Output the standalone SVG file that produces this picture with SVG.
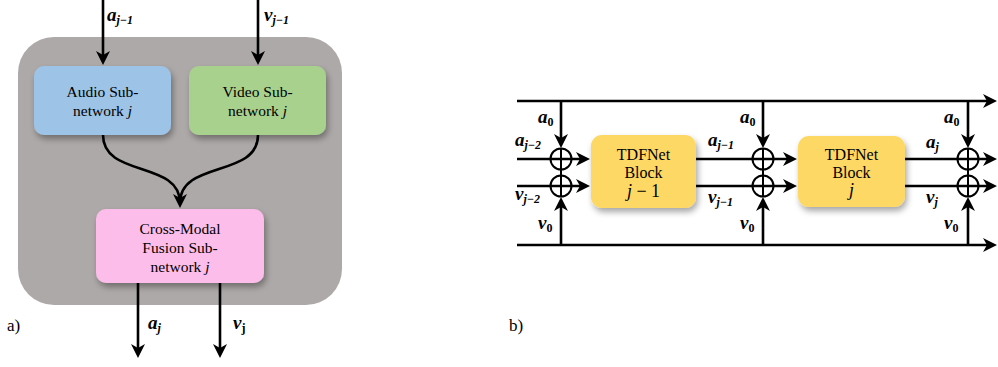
<svg xmlns="http://www.w3.org/2000/svg" width="998" height="367" viewBox="0 0 998 367">
<defs>
<marker id="arr" viewBox="0 0 14 14" refX="9" refY="7" markerWidth="14" markerHeight="14" orient="auto" markerUnits="userSpaceOnUse">
<path d="M0,0 L14,7 L0,14 L4,7 z" fill="#000"/>
</marker>
<filter id="sh" x="-20%" y="-20%" width="150%" height="160%">
<feDropShadow dx="2" dy="4" stdDeviation="3" flood-color="#000" flood-opacity="0.35"/>
</filter>
<style>
.ln{stroke:#000;stroke-width:2.6;fill:none}
.lb{font-family:"Liberation Serif",serif;font-size:15.5px;fill:#000}
.m{font-family:"Liberation Serif",serif;font-style:italic;font-weight:bold;font-size:19px;fill:#000}
.s{font-size:12px}
.pl{font-family:"Liberation Serif",serif;font-size:17px;fill:#000}
.ci{stroke:#000;stroke-width:2;fill:none}
</style>
</defs>

<g id="panel-a">
<rect x="18" y="37" width="324" height="268" rx="36" fill="#ADA9A8"/>
</g>

<g id="audio">
<rect x="34" y="66" width="137" height="69" rx="10" fill="#9DC3E6" filter="url(#sh)"/>
<text class="lb" text-anchor="middle"><tspan x="102.5" y="97">Audio Sub-</tspan><tspan x="102.5" y="116">network <tspan font-style="italic">j</tspan></tspan></text>
</g>
<g id="video">
<rect x="189" y="66" width="137" height="69" rx="10" fill="#A9D18E" filter="url(#sh)"/>
<text class="lb" text-anchor="middle"><tspan x="257.5" y="97">Video Sub-</tspan><tspan x="257.5" y="116">network <tspan font-style="italic">j</tspan></tspan></text>
</g>
<g id="fusion">
<rect x="96" y="209" width="168" height="74" rx="10" fill="#FDBDEA" filter="url(#sh)"/>
<text class="lb" text-anchor="middle"><tspan x="180" y="234">Cross-Modal</tspan><tspan x="180" y="253">Fusion Sub-</tspan><tspan x="180" y="272">network <tspan font-style="italic">j</tspan></tspan></text>
</g>

<g id="block1">
<rect x="591" y="135" width="105" height="73" rx="11" fill="#FDD865" filter="url(#sh)"/>
<text class="lb" text-anchor="middle" style="font-size:16px"><tspan x="643.5" y="160">TDFNet</tspan><tspan x="643.5" y="178">Block</tspan><tspan x="643.5" y="197" style="font-size:18px"><tspan font-style="italic">j</tspan> − 1</tspan></text>
</g>
<g id="block2">
<rect x="798" y="136" width="107" height="71" rx="11" fill="#FDD865" filter="url(#sh)"/>
<text class="lb" text-anchor="middle" style="font-size:16px"><tspan x="851.5" y="160">TDFNet</tspan><tspan x="851.5" y="178">Block</tspan><tspan x="851.5" y="196" font-style="italic" style="font-size:18px">j</tspan></text>
</g>

<g id="connectors">
<line class="ln" x1="103" y1="0" x2="103" y2="60" marker-end="url(#arr)"/>
<line class="ln" x1="258" y1="0" x2="258" y2="60" marker-end="url(#arr)"/>
<path class="ln" d="M103,135 C103,178 180,160 180,203" marker-end="url(#arr)"/>
<path class="ln" d="M258,135 C258,178 180,160 180,203"/>
<line class="ln" x1="138" y1="283" x2="138" y2="353" marker-end="url(#arr)"/>
<line class="ln" x1="220" y1="283" x2="220" y2="353" marker-end="url(#arr)"/>

<line class="ln" x1="517" y1="101" x2="992" y2="101" marker-end="url(#arr)"/>
<line class="ln" x1="517" y1="245" x2="992" y2="245" marker-end="url(#arr)"/>
<line class="ln" x1="517" y1="159" x2="585" y2="159" marker-end="url(#arr)"/>
<line class="ln" x1="517" y1="186" x2="585" y2="186" marker-end="url(#arr)"/>
<line class="ln" x1="696" y1="159" x2="792" y2="159" marker-end="url(#arr)"/>
<line class="ln" x1="696" y1="186" x2="792" y2="186" marker-end="url(#arr)"/>
<line class="ln" x1="905" y1="159" x2="992" y2="159" marker-end="url(#arr)"/>
<line class="ln" x1="905" y1="186" x2="992" y2="186" marker-end="url(#arr)"/>

<line class="ln" x1="561" y1="101" x2="561" y2="143" marker-end="url(#arr)"/>
<line class="ln" x1="561" y1="245" x2="561" y2="202" marker-end="url(#arr)"/>
<line class="ln" x1="763" y1="101" x2="763" y2="143" marker-end="url(#arr)"/>
<line class="ln" x1="763" y1="245" x2="763" y2="202" marker-end="url(#arr)"/>
<line class="ln" x1="968" y1="101" x2="968" y2="143" marker-end="url(#arr)"/>
<line class="ln" x1="968" y1="245" x2="968" y2="202" marker-end="url(#arr)"/>

<circle class="ci" cx="561" cy="159" r="10.5"/>
<circle class="ci" cx="561" cy="186" r="10.5"/>
<circle class="ci" cx="763" cy="159" r="10.5"/>
<circle class="ci" cx="763" cy="186" r="10.5"/>
<circle class="ci" cx="968" cy="159" r="10.5"/>
<circle class="ci" cx="968" cy="186" r="10.5"/>
<line class="ci" x1="561" y1="148.5" x2="561" y2="196.5"/>
<line class="ci" x1="763" y1="148.5" x2="763" y2="196.5"/>
<line class="ci" x1="968" y1="148.5" x2="968" y2="196.5"/>
</g>

<g id="labels">
<text class="m" x="107" y="21">a<tspan class="s" dy="3">j−1</tspan></text>
<text class="m" x="264" y="21">v<tspan class="s" dy="3">j−1</tspan></text>
<text class="m" x="148" y="329">a<tspan class="s" dy="3">j</tspan></text>
<text class="m" x="233" y="329">v<tspan class="s" dy="3" font-style="normal">j</tspan></text>
<text class="pl" x="7" y="331">a)</text>
<text class="pl" x="509" y="331">b)</text>

<text class="m" x="538" y="123">a<tspan class="s" dy="3" font-style="normal">0</tspan></text>
<text class="m" x="515" y="146">a<tspan class="s" dy="3">j−2</tspan></text>
<text class="m" x="515" y="200">v<tspan class="s" dy="3">j−2</tspan></text>
<text class="m" x="538" y="229">v<tspan class="s" dy="3" font-style="normal">0</tspan></text>

<text class="m" x="708" y="146">a<tspan class="s" dy="3">j−1</tspan></text>
<text class="m" x="708" y="203">v<tspan class="s" dy="3">j−1</tspan></text>
<text class="m" x="740" y="123">a<tspan class="s" dy="3" font-style="normal">0</tspan></text>
<text class="m" x="740" y="229">v<tspan class="s" dy="3" font-style="normal">0</tspan></text>

<text class="m" x="926" y="148">a<tspan class="s" dy="3">j</tspan></text>
<text class="m" x="926" y="203">v<tspan class="s" dy="3">j</tspan></text>
<text class="m" x="944" y="123">a<tspan class="s" dy="3" font-style="normal">0</tspan></text>
<text class="m" x="944" y="229">v<tspan class="s" dy="3" font-style="normal">0</tspan></text>
</g>
</svg>
